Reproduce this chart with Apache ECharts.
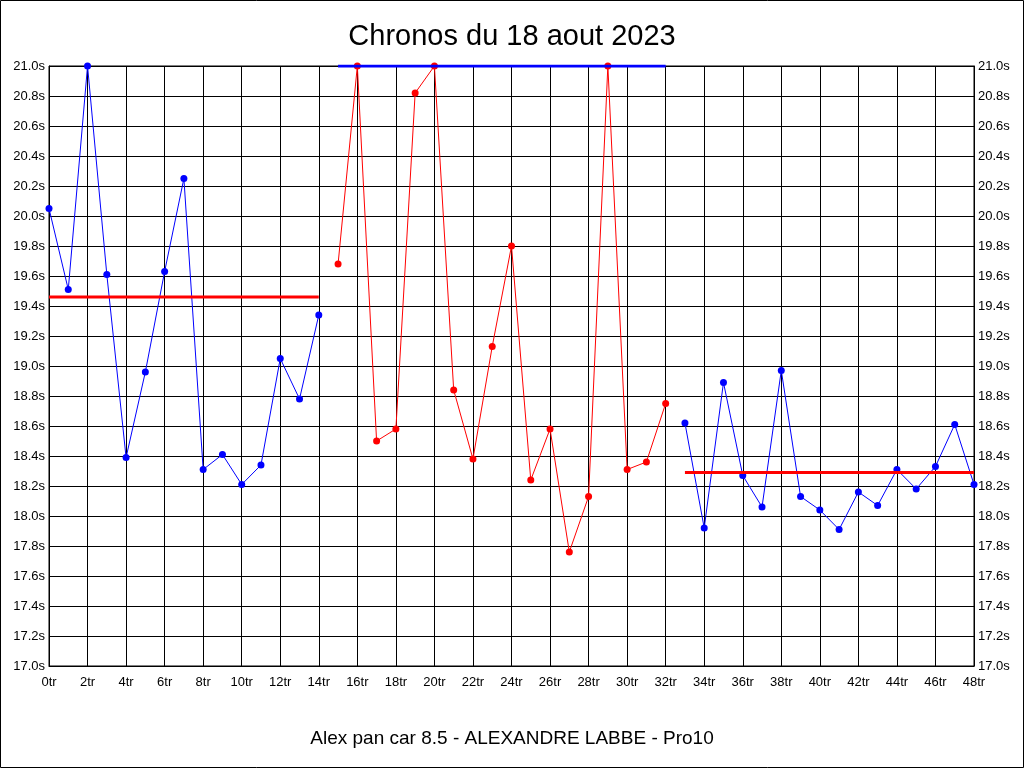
<!DOCTYPE html>
<html>
<head>
<meta charset="utf-8">
<script src="https://cdn.jsdelivr.net/npm/echarts@6/dist/echarts.min.js"></script>
<style>
html,body{margin:0;padding:0;background:#fff;}
#chart{width:1024px;height:768px;}
</style>
</head>
<body>
<div id="chart"></div>
<script>
// Lap times (seconds), three stints
const stint1Start = 0;
const stint1 = [20.05, 19.51, 21.0, 19.61, 18.39, 18.96, 19.63, 20.25, 18.31, 18.41, 18.21, 18.34, 19.05, 18.78, 19.34];
const stint1Avg = 19.46;

const stint2Start = 15;
const stint2 = [19.68, 21.0, 18.50, 18.58, 20.82, 21.0, 18.84, 18.38, 19.13, 19.80, 18.24, 18.58, 17.76, 18.13, 21.0, 18.31, 18.36, 18.75];
const stint2Avg = 21.0;

const stint3Start = 33;
const stint3 = [18.62, 17.92, 18.89, 18.27, 18.06, 18.97, 18.13, 18.04, 17.91, 18.16, 18.07, 18.31, 18.18, 18.33, 18.61, 18.21];
const stint3Avg = 18.29;

const titleText = 'Chronos du 18 aout 2023';
const subtitleText = 'Alex pan car 8.5 - ALEXANDRE LABBE - Pro10';

const FONT = 'Arial, "Liberation Sans", sans-serif';

function pts(start, vals) { return vals.map((v, i) => [start + i, v]); }
function avgLine(start, vals, avg) { return [[start, avg], [start + vals.length - 1, avg]]; }

function dataSeries(start, vals, color) {
  return {
    type: 'line', data: pts(start, vals), symbol: 'circle', symbolSize: 7,
    lineStyle: { color: color, width: 1 }, itemStyle: { color: color },
    animation: false, z: 3
  };
}
function avgSeries(start, vals, avg, color) {
  return {
    type: 'line', data: avgLine(start, vals, avg), symbol: 'none',
    lineStyle: { color: color, width: 3 }, animation: false, z: 4
  };
}

const yLabel = { color: '#000', fontFamily: FONT, fontSize: 13, formatter: v => v.toFixed(1) + 's' };

const chart = echarts.init(document.getElementById('chart'), null, { renderer: 'canvas' });
chart.setOption({
  backgroundColor: '#fff',
  animation: false,
  title: [
    { text: titleText, left: 'center', top: 17, textStyle: { fontFamily: FONT, fontSize: 29, fontWeight: 'normal', color: '#000' } },
    { text: subtitleText, left: 'center', top: 724, textStyle: { fontFamily: FONT, fontSize: 19, fontWeight: 'normal', color: '#000' } }
  ],
  grid: { left: 49, right: 50, top: 66, bottom: 102, show: true, borderColor: '#000', borderWidth: 1, containLabel: false },
  xAxis: {
    type: 'value', min: 0, max: 48, interval: 2,
    axisLine: { lineStyle: { color: '#000' } }, axisTick: { show: false },
    splitLine: { show: true, lineStyle: { color: '#000', width: 1 } },
    axisLabel: { color: '#000', fontFamily: FONT, fontSize: 13, margin: 10, formatter: v => v + 'tr' }
  },
  yAxis: [
    { type: 'value', min: 17, max: 21, interval: 0.2, position: 'left',
      axisLine: { show: true, lineStyle: { color: '#000' } }, axisTick: { show: false },
      splitLine: { show: true, lineStyle: { color: '#000', width: 1 } },
      axisLabel: Object.assign({ margin: 4 }, yLabel) },
    { type: 'value', min: 17, max: 21, interval: 0.2, position: 'right',
      axisLine: { show: true, lineStyle: { color: '#000' } }, axisTick: { show: false },
      splitLine: { show: false },
      axisLabel: Object.assign({ margin: 4 }, yLabel) }
  ],
  series: [
    dataSeries(stint1Start, stint1, '#0000ff'),
    dataSeries(stint2Start, stint2, '#ff0000'),
    dataSeries(stint3Start, stint3, '#0000ff'),
    avgSeries(stint1Start, stint1, stint1Avg, '#ff0000'),
    avgSeries(stint2Start, stint2, stint2Avg, '#0000ff'),
    avgSeries(stint3Start, stint3, stint3Avg, '#ff0000')
  ],
  graphic: [
    { type: 'rect', shape: { x: 0.5, y: 0.5, width: 1023, height: 767 }, style: { fill: 'none', stroke: '#000', lineWidth: 1 }, silent: true, z: 100 }
  ]
});
</script>
</body>
</html>
